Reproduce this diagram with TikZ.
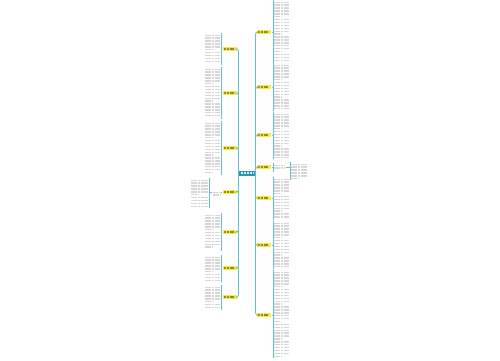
\documentclass[tikz,border=0pt]{standalone}
\usepackage{tikz}
\usetikzlibrary{calc,fit,positioning}
\definecolor{Teal}{RGB}{40,152,176}
\definecolor{Link}{RGB}{104,190,205}
\definecolor{Gold}{RGB}{247,232,66}

%% a block of (unreadable) small text, drawn as grey rows
\newcommand{\tblock}[5]{%
  \node[tblk,fit={(#2,#3) (#4,#5)}] (#1) {};
  \pgfmathsetmacro\ya{#3+1.2}
  \pgfmathsetmacro\yb{#3+4.1}
  \foreach [count=\k] \yy in {\ya,\yb,...,#5}
    {\pgfmathsetmacro\xe{mod(\k,6)==0 ? #2+(#4-#2)*0.45 : #4}
     \draw[txt] (#2,\yy) -- (\xe,\yy);}}

\begin{document}
\begin{tikzpicture}[x=0.02cm, y=-0.02cm,
       link/.style={draw=Link, line width=0.45pt, rounded corners=1.2pt},
       txt/.style={draw=gray!32, line width=0.8pt, dash pattern=on 1.6pt off 0.25pt},
       tblk/.style={inner sep=0.4pt},
       centretopic/.style={rectangle, fill=Teal, minimum width=0.33cm,
                           minimum height=0.1cm, inner sep=0pt,
                           path picture={\draw[white!80!Teal, line width=0.8pt, dash pattern=on 1.4pt off 0.3pt]
                             ([xshift=0.4mm]path picture bounding box.west) --
                             ([xshift=-0.4mm]path picture bounding box.east);}},
       keytopic/.style={rectangle, fill=Gold, minimum width=0.29cm,
                        minimum height=0.07cm, inner sep=0pt,
                        path picture={\draw[black!40!Gold, line width=0.6pt, dash pattern=on 1.2pt off 0.3pt]
                          ([xshift=0.3mm]path picture bounding box.west) --
                          ([xshift=-0.6mm]path picture bounding box.east);}}]

	\fill[white] (0,0) rectangle (500,360);
	\useasboundingbox (0,0) rectangle (500,360);

	%% Centre topic
	\node[centretopic] (root) at (247,173) {};

	%% Left branches
	\foreach [count=\i] \y in {49,93,148,192,232,268,297}
		{\node[keytopic] (lt\i) at (230,\y) {};
		 \draw[link] (root.west) |- (lt\i.east);}

	%% Right branches
	\foreach [count=\i] \y in {32,87,135,167,198,245,315}
		{\node[keytopic] (rt\i) at (264,\y) {};
		 \draw[link] (root.east) |- (rt\i.west);}

	%% Left text blocks
	\tblock{lb1}{205}{34}{220}{64}
	\tblock{lb2}{205}{68}{220}{118}
	\tblock{lb3}{205}{122}{220}{174}
	\tblock{ls4}{213}{191}{220}{193}
	\tblock{lb4}{191}{179}{208}{207}
	\tblock{lb5}{205}{214}{220}{250}
	\tblock{lb6}{205}{256}{220}{281}
	\tblock{lb7}{205}{286}{220}{309}
	\foreach \i in {1,2,3,5,6,7}
		{\draw[link] (lt\i.west) -- (lt\i.west -| lb\i.east);
		 \draw[link] (lb\i.north east) -- (lb\i.south east);}
	\draw[link] (lt4.west) -- (ls4.east);
	\draw[link] (ls4.west) -- (ls4.west -| lb4.east);
	\draw[link] (lb4.north east) -- (lb4.south east);

	%% Right text blocks
	\tblock{rb1}{274}{1}{289}{62}
	\tblock{rb2}{274}{64}{289}{110}
	\tblock{rb3}{274}{113}{289}{158}
	\tblock{rs4}{274}{164}{285}{171}
	\tblock{rb4}{291}{163}{307}{179}
	\tblock{rb5}{274}{178}{289}{219}
	\tblock{rb6}{274}{222}{289}{268}
	\tblock{rb7}{274}{271}{289}{357}
	\foreach \i in {1,2,3,5,6,7}
		{\draw[link] (rt\i.east) -- (rt\i.east -| rb\i.west);
		 \draw[link] (rb\i.north west) -- (rb\i.south west);}
	\draw[link] (rt4.east) -- (rt4.east -| rs4.west);
	\draw[link] (rs4.north west) -- (rs4.south west);
	\draw[link] (rs4.east) -- (rs4.east -| rb4.west);
	\draw[link] (rb4.north west) -- (rb4.south west);
\end{tikzpicture}
\end{document}
